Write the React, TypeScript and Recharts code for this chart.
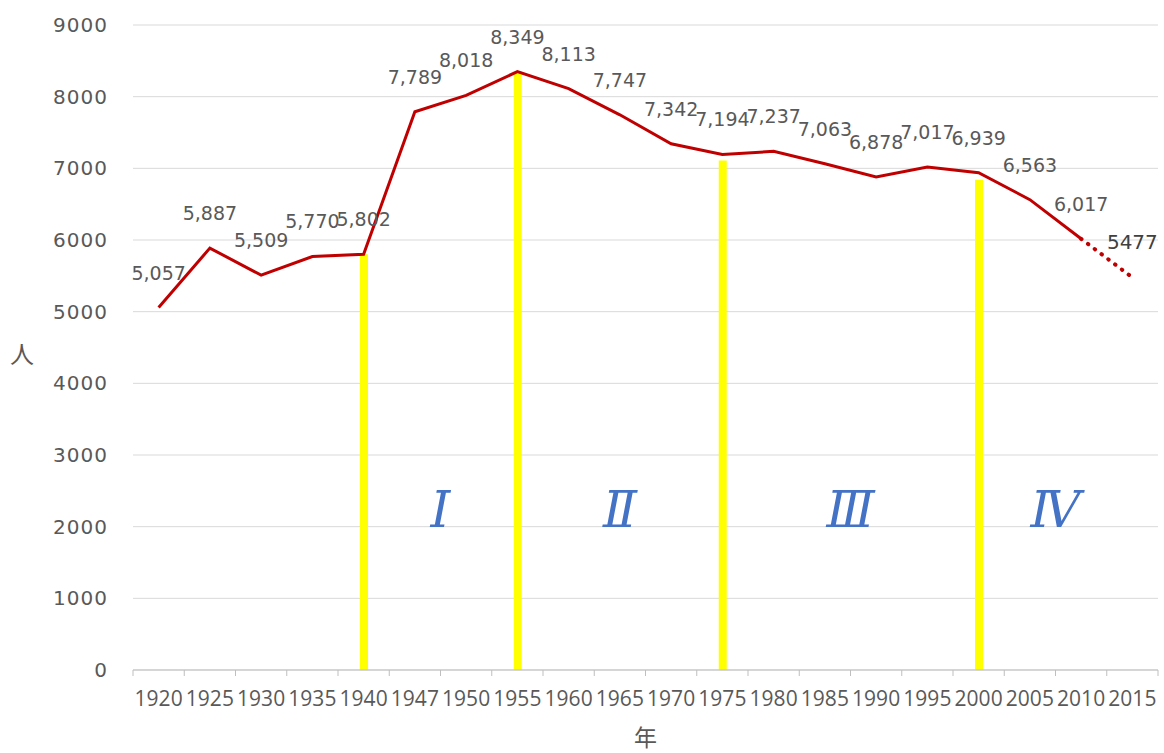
import React from 'react'
import {
  ComposedChart,
  Line,
  Bar,
  XAxis,
  YAxis,
  CartesianGrid,
  LabelList,
} from 'recharts'

const years = ['1920', '1925', '1930', '1935', '1940', '1947', '1950', '1955', '1960', '1965', '1970', '1975', '1980', '1985', '1990', '1995', '2000', '2005', '2010', '2015']
const population = [5057, 5887, 5509, 5770, 5802, 7789, 8018, 8349, 8113, 7747, 7342, 7194, 7237, 7063, 6878, 7017, 6939, 6563, 6017, null]
const projection = [null, null, null, null, null, null, null, null, null, null, null, null, null, null, null, null, null, null, 6017, 5477]
// yellow dividers between periods
const dividers = [null, null, null, null, 5802, null, null, 8349, null, null, null, 7110, null, null, null, null, 6840, null, null, null]
// period numerals, placed at 2000 on the y scale
const periodNames = [null, null, null, null, null, 'Ⅰ', null, null, null, 'Ⅱ', null, null, null, 'Ⅲ', null, null, null, 'Ⅳ', null, null]
const periodShift = [0, 0, 0, 0, 0, 0.5, 0, 0, 0, 0, 0, 0, 0, 0.5, 0, 0, 0, 0.5, 0, 0]
const yTicks = [0, 1000, 2000, 3000, 4000, 5000, 6000, 7000, 8000, 9000]

const W = 1164
const H = 753
const LEFT = 133
const RIGHT = 6
const BAND = (W - LEFT - RIGHT) / years.length

const data = years.map((y, i) => ({
  year: y,
  pop: population[i],
  proj: projection[i],
  divider: dividers[i],
  period: periodNames[i] ? 2000 : null,
}))

const fmt = (v: number) => v.toLocaleString('en-US')

const YearTick = (props: any) => {
  const { x, y, payload, index } = props
  const last = index === years.length - 1
  return (
    <g>
      <line x1={x - BAND / 2} x2={x - BAND / 2} y1={y} y2={y + 6} stroke="#bfbfbf" />
      {last ? <line x1={x + BAND / 2} x2={x + BAND / 2} y1={y} y2={y + 6} stroke="#bfbfbf" /> : null}
      <text x={x} y={y + 36} textAnchor="middle" fill="#595959" fontSize={21} fontFamily="'Open Sans'">
        {payload.value}
      </text>
    </g>
  )
}

const PopLabel = (props: any) => {
  const { x, y, value } = props
  if (value == null) return null
  return (
    <text x={x} y={y - 28} textAnchor="middle" fill="#595959" fontSize={19} fontFamily="'DejaVu Sans'">
      {fmt(value)}
    </text>
  )
}

const ProjLabel = (props: any) => {
  const { x, y, value, index } = props
  if (value == null || index !== years.length - 1) return null
  return (
    <text x={x} y={y - 28} textAnchor="middle" fill="#404040" fontSize={20} fontFamily="'DejaVu Sans'">
      {value}
    </text>
  )
}

const PeriodLabel = (props: any) => {
  const { x, y, index } = props
  const name = periodNames[index]
  if (!name) return null
  return (
    <text
      x={x + periodShift[index] * BAND}
      y={y}
      textAnchor="middle"
      fill="#4472C4"
      fontSize={50}
      fontStyle="italic"
      fontFamily="'DejaVu Serif'"
    >
      {name}
    </text>
  )
}

export default function App() {
  return (
    <div style={{ position: 'absolute', left: 0, top: 0, width: W, height: H, background: '#fff' }}>
      <ComposedChart width={W} height={H} data={data} margin={{ top: 25, right: RIGHT, left: 0, bottom: 0 }}>
        <CartesianGrid stroke="#d9d9d9" vertical={false} />
        <XAxis
          dataKey="year"
          height={83}
          tickLine={false}
          tickSize={0}
          tickMargin={0}
          interval={0}
          axisLine={{ stroke: '#bfbfbf' }}
          tick={<YearTick />}
          label={{ value: '年', position: 'insideBottom', offset: 7, fill: '#595959', fontSize: 23, fontFamily: "'Noto Sans CJK JP'" }}
        />
        <YAxis
          width={LEFT}
          domain={[0, 9000]}
          ticks={yTicks}
          axisLine={false}
          tickLine={false}
          tickSize={0}
          tickMargin={25}
          tick={{ fill: '#595959', fontSize: 20, fontFamily: "'DejaVu Sans'", letterSpacing: 1 }}
          label={{ value: '人', position: 'insideLeft', offset: 10, dy: 7, fill: '#595959', fontSize: 24, fontFamily: "'Noto Sans CJK JP'" }}
        />
        <Bar dataKey="divider" fill="#FFFF00" barSize={8} isAnimationActive={false} />
        <Line
          dataKey="period"
          stroke="none"
          dot={false}
          activeDot={false}
          connectNulls={false}
          isAnimationActive={false}
        >
          <LabelList dataKey="period" content={<PeriodLabel />} />
        </Line>
        <Line
          dataKey="proj"
          stroke="#C00000"
          strokeWidth={4}
          strokeDasharray="0.5 8"
          strokeLinecap="round"
          dot={false}
          activeDot={false}
          isAnimationActive={false}
        >
          <LabelList dataKey="proj" content={<ProjLabel />} />
        </Line>
        <Line
          dataKey="pop"
          stroke="#C00000"
          strokeWidth={3}
          dot={false}
          activeDot={false}
          isAnimationActive={false}
        >
          <LabelList dataKey="pop" content={<PopLabel />} />
        </Line>
      </ComposedChart>
    </div>
  )
}
